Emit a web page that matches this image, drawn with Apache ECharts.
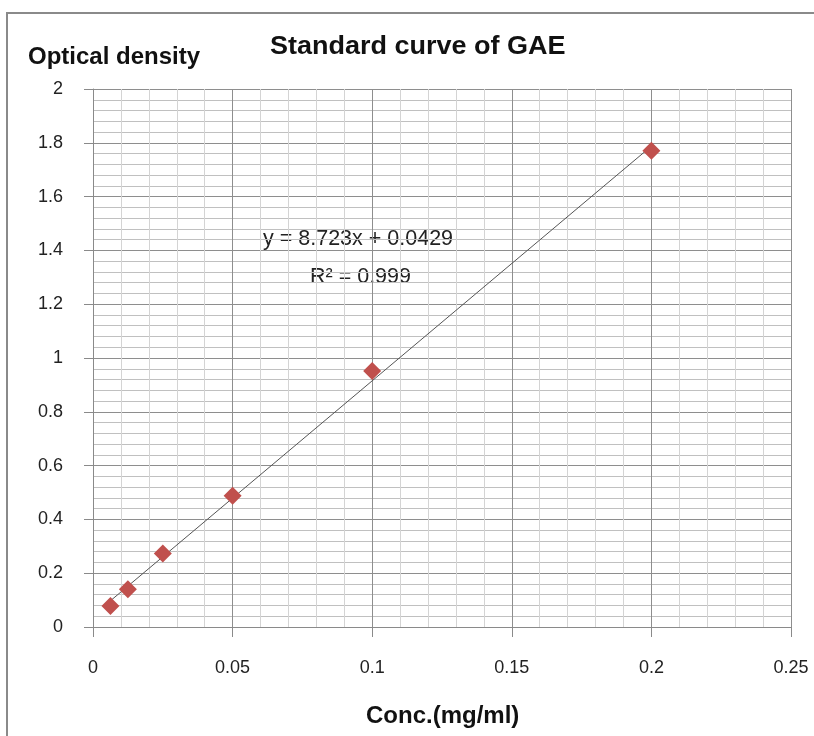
<!DOCTYPE html>
<html><head><meta charset="utf-8">
<script src="https://cdn.jsdelivr.net/npm/echarts@6/dist/echarts.min.js"></script>
<style>html,body{margin:0;padding:0;background:#fff}#c{width:814px;height:736px}</style>
</head><body><div id="c"></div>
<script>
const concentrations = [0.00625, 0.0125, 0.025, 0.05, 0.1, 0.2];
const opticalDensity = [0.078, 0.140, 0.273, 0.488, 0.952, 1.770];
const trendSlope = 8.723;
const trendIntercept = 0.0429;
const equationLabel = 'y = 8.723x + 0.0429';
const r2Label = 'R² = 0.999';
const xTicks = [0, 0.05, 0.1, 0.15, 0.2, 0.25];
const yTicks = [0, 0.2, 0.4, 0.6, 0.8, 1, 1.2, 1.4, 1.6, 1.8, 2];

const font = '"Liberation Sans", Arial, sans-serif';
const pts = concentrations.map((x, i) => [x, opticalDensity[i]]);
const xa = Math.min(...concentrations), xb = Math.max(...concentrations);
const trend = [[xa, trendSlope * xa + trendIntercept], [xb, trendSlope * xb + trendIntercept]];

const chart = echarts.init(document.getElementById('c'), null, {renderer: 'canvas'});
chart.setOption({
  animation: false,
  backgroundColor: '#fff',
  grid: {left: 93, top: 89, width: 698, height: 538, containLabel: false},
  xAxis: {
    type: 'value', min: xTicks[0], max: xTicks[xTicks.length - 1], interval: 0.05,
    axisLine: {show: true, lineStyle: {color: '#8a8a8a', width: 1}},
    axisTick: {show: true, length: 10, lineStyle: {color: '#8a8a8a'}},
    axisLabel: {color: '#222', fontSize: 18, fontFamily: font, margin: 32,
      formatter: v => String(Number(v.toFixed(4)))},
    splitLine: {show: true, lineStyle: {color: '#8e8e8e', width: 1}},
    minorTick: {show: false, splitNumber: 5},
    minorSplitLine: {show: true, lineStyle: {color: '#d4d4d4', width: 1}}
  },
  yAxis: {
    type: 'value', min: yTicks[0], max: yTicks[yTicks.length - 1], interval: 0.2,
    axisLine: {show: true, lineStyle: {color: '#8a8a8a', width: 1}},
    axisTick: {show: true, length: 9, lineStyle: {color: '#8a8a8a'}},
    axisLabel: {color: '#222', fontSize: 18, fontFamily: font, margin: 30,
      formatter: v => String(Number(v.toFixed(4)))},
    splitLine: {show: true, lineStyle: {color: '#8e8e8e', width: 1}},
    minorTick: {show: false, splitNumber: 5},
    minorSplitLine: {show: true, lineStyle: {color: '#c0c0c0', width: 1}}
  },
  series: [
    {type: 'line', data: trend, showSymbol: false, symbol: 'none',
     lineStyle: {color: '#555', width: 1}, z: 3},
    {type: 'scatter', data: pts, symbol: 'diamond', symbolSize: 18,
     itemStyle: {color: '#C0504D', opacity: 1}, z: 4}
  ],
  graphic: [
    {type: 'rect', shape: {x: 7, y: 13, width: 830, height: 760},
     style: {fill: 'none', stroke: '#8a8a8a', lineWidth: 2}, silent: true, z: -1},
    {type: 'text', x: 270, y: 47, scaleX: 1.08,
     style: {text: 'Standard curve of GAE', font: 'bold 25px ' + font, fill: '#111', verticalAlign: 'middle'}},
    {type: 'text', x: 28, y: 57,
     style: {text: 'Optical density', font: 'bold 24px ' + font, fill: '#111', verticalAlign: 'middle'}},
    {type: 'text', x: 366, y: 716,
     style: {text: 'Conc.(mg/ml)', font: 'bold 24px ' + font, fill: '#111', verticalAlign: 'middle'}},
    {type: 'text', x: 263, y: 239,
     style: {text: equationLabel, font: '21.5px ' + font, fill: '#222', verticalAlign: 'middle'}},
    {type: 'text', x: 310, y: 277,
     style: {text: r2Label, font: '21.5px ' + font, fill: '#222', verticalAlign: 'middle'}}
  ]
});
</script></body></html>
